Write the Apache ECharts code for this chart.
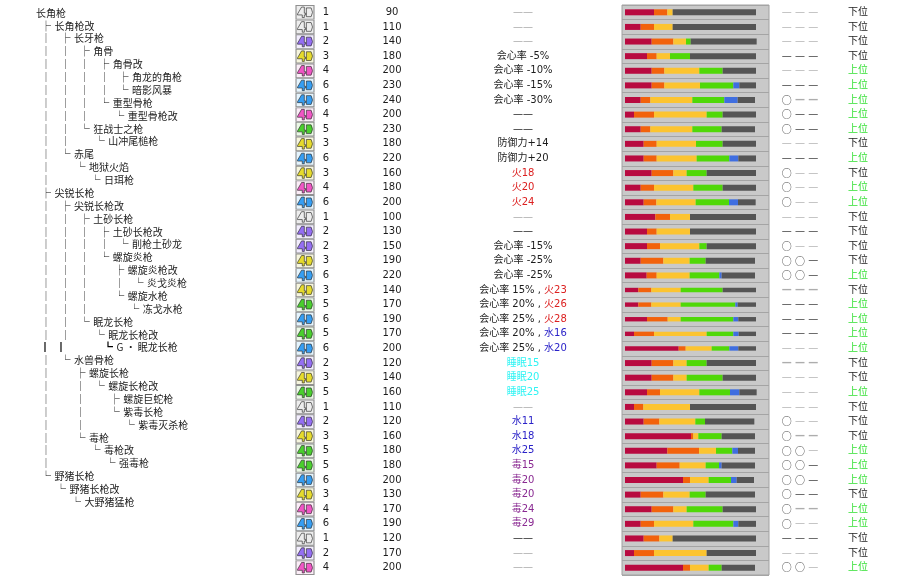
<!DOCTYPE html>
<html>
<head>
<meta charset="utf-8">
<style>
    html, body { margin: 0; padding: 0; background: #fff; }
    #chartArea { width: 922px; height: 588px; }
</style>
<script src="https://cdn.jsdelivr.net/npm/echarts@6/dist/echarts.min.js"></script>
</head>
<body>
<div id="chartArea"></div>
<script>
// upgrade tree: │ bar, 　 blank, ├ └ branch, then the weapon name
var treeRows = [
    "长角枪",
    "├长角枪改",
    "│├长牙枪",
    "││├角骨",
    "│││├角骨改",
    "││││├角龙的角枪",
    "││││└暗影风暴",
    "│││└重型骨枪",
    "│││　└重型骨枪改",
    "││└狂战士之枪",
    "││　└山冲尾槌枪",
    "│└赤尾",
    "│　└地狱火焰",
    "│　　└日珥枪",
    "├尖锐长枪",
    "│├尖锐长枪改",
    "││├土砂长枪",
    "│││├土砂长枪改",
    "││││└削枪土砂龙",
    "│││└螺旋炎枪",
    "│││　├螺旋炎枪改",
    "│││　│└炎戈炎枪",
    "│││　└螺旋水枪",
    "│││　　└冻戈水枪",
    "││└眠龙长枪",
    "││　└眠龙长枪改",
    "┃┃　　┗G · 眠龙长枪",
    "│└水兽骨枪",
    "│　├螺旋长枪",
    "│　│└螺旋长枪改",
    "│　│　├螺旋巨蛇枪",
    "│　│　└紫毒长枪",
    "│　│　　└紫毒灭杀枪",
    "│　└毒枪",
    "│　　└毒枪改",
    "│　　　└强毒枪",
    "└野猪长枪",
    "　└野猪长枪改",
    "　　└大野猪猛枪"
];
var levels = [1, 1, 2, 3, 4, 6, 6, 4, 5, 3, 6, 3, 4, 6, 1, 2, 2, 3, 6, 3, 5, 6, 5, 6, 2, 3, 5, 1, 2, 3, 5, 5, 6, 3, 4, 6, 1, 2, 4];
var attacks = [90, 110, 140, 180, 200, 230, 240, 200, 230, 180, 220, 160, 180, 200, 100, 130, 150, 190, 220, 140, 170, 190, 170, 200, 120, 140, 160, 110, 120, 160, 180, 180, 200, 130, 170, 190, 120, 170, 200];
var effects = [
    "——", "——", "——", "会心率 -5%", "会心率 -10%", "会心率 -15%", "会心率 -30%", "——", "——",
    "防御力+14", "防御力+20", "火18", "火20", "火24", "——", "——", "会心率 -15%", "会心率 -25%", "会心率 -25%",
    "会心率 15% , 火23", "会心率 20% , 火26", "会心率 25% , 火28", "会心率 20% , 水16", "会心率 25% , 水20",
    "睡眠15", "睡眠20", "睡眠25", "——", "水11", "水18", "水25", "毒15", "毒20", "毒20", "毒24", "毒29", "——", "——", "——"
];
var faintEffects = [0, 1, 2, 14, 27, 37, 38];

// sharpness gauge, one array per colour
var sharpRed = [87, 47, 80, 66, 80, 80, 47, 27, 47, 56, 56, 80, 47, 56, 91, 66, 66, 47, 65, 40, 40, 66, 27, 161, 80, 80, 66, 27, 56, 198, 127, 95, 174, 47, 80, 47, 56, 27, 174];
var sharpOrange = [40, 40, 65, 29, 38, 38, 29, 60, 29, 39, 39, 65, 40, 38, 44, 29, 39, 68, 30, 39, 39, 62, 60, 21, 65, 65, 39, 28, 47, 7, 95, 69, 21, 68, 65, 40, 47, 60, 21];
var sharpYellow = [16, 56, 38, 40, 105, 107, 126, 158, 126, 118, 120, 40, 118, 118, 60, 100, 118, 79, 99, 88, 88, 39, 158, 78, 40, 40, 118, 140, 108, 15, 51, 78, 56, 79, 40, 118, 40, 158, 56];
var sharpGreen = [0, 0, 14, 60, 70, 100, 96, 48, 88, 80, 98, 60, 88, 100, 0, 0, 22, 48, 89, 126, 164, 158, 80, 53, 60, 108, 92, 0, 29, 70, 49, 40, 67, 48, 108, 120, 0, 0, 39];
var sharpBlue = [0, 0, 0, 0, 0, 18, 40, 0, 0, 0, 27, 0, 0, 27, 0, 0, 0, 0, 7, 0, 7, 15, 16, 27, 0, 0, 28, 0, 0, 0, 17, 8, 17, 0, 0, 15, 0, 0, 0];
var sharpRest = [250, 250, 198, 198, 100, 50, 52, 100, 100, 100, 53, 148, 100, 53, 198, 198, 148, 148, 100, 100, 55, 53, 52, 53, 148, 100, 52, 198, 148, 100, 51, 100, 52, 148, 100, 53, 250, 148, 100];
var thinGaugeRows = [19, 20, 21, 22, 23];

// decoration slots
var slots = [
    "———", "———", "———", "———", "———", "———", "○——", "○——", "○——", "———", "———", "○——", "○——",
    "○——", "———", "———", "○——", "○○—", "○○—", "———", "———", "———", "———", "———", "———", "———",
    "———", "———", "○——", "○——", "○○—", "○○—", "○○—", "○——", "○——", "○——", "———", "———", "○○—"
];
var faintSlots = [0, 1, 2, 4, 9, 11, 12, 13, 14, 16, 23, 25, 26, 27, 28, 30, 35, 37, 38];
var heavySlots = [6, 19, 24, 29, 34];
var ranks = [
    "下位", "下位", "下位", "下位", "上位", "上位", "上位", "上位", "上位", "下位", "上位", "下位", "上位",
    "上位", "下位", "下位", "下位", "下位", "上位", "下位", "上位", "上位", "上位", "上位", "下位", "下位",
    "上位", "下位", "下位", "下位", "上位", "上位", "上位", "下位", "上位", "上位", "下位", "下位", "上位"
];

var TEXT_FONT = '"DejaVu Sans", "Noto Sans CJK SC", sans-serif';
var TREE_FONT = '"Noto Sans CJK SC", sans-serif';
var rarityFill = { 1: "#ececec", 2: "#7d4ff0", 3: "#e2d400", 4: "#ee2fb8", 5: "#22c400", 6: "#0a88f0" };
var rarityBack = { 1: "#e8e8e8", 2: "#efe9fc", 3: "#f4f2d6", 4: "#fae8f5", 5: "#e6f5e0", 6: "#def1fc" };
var weaponIcon = "path://M0 9 L6 1 L10 1 L10 8 L12 8 L12 10 L10 10 L10 13 L7 13 L7 10 L0 10 Z " +
    "M13 2 L20 2 Q24 7 20 12 L13 12 Z";

var rowIds = treeRows.map(function (name, i) { return i; });

// column axes: the labels are the column text
function columnAxis(data, centerX, label) {
    var axisLabel = {
        show: true, interval: 0, margin: 0, align: "center", inside: false,
        fontSize: 10, fontFamily: TEXT_FONT, color: "#1c1c1c"
    };
    for (var k in label) axisLabel[k] = label[k];
    return {
        type: "category", gridIndex: 1, inverse: true, position: "left", offset: -centerX, data: data,
        axisLine: { show: false }, axisTick: { show: false }, splitLine: { show: false }, axisLabel: axisLabel
    };
}

function hiddenAxis(gridIndex, showSplit) {
    return {
        type: "category", gridIndex: gridIndex, inverse: true, data: rowIds,
        axisLine: { show: false }, axisTick: { show: false }, axisLabel: { show: false },
        splitLine: { show: !!showSplit, interval: 0, lineStyle: { color: "#a4a4a4", width: 1 } }
    };
}

function hiddenValue(gridIndex, min, max) {
    return { type: "value", gridIndex: gridIndex, min: min, max: max, show: false, splitLine: { show: false } };
}

var effectFormatter = function (value, index) {
    if (value === "——" && faintEffects.indexOf(index) > -1) return "{faint|——}";
    return value.replace(/火\d+/, "{fire|$&}")
        .replace(/水\d+/, "{water|$&}")
        .replace(/睡眠\d+/, "{sleep|$&}")
        .replace(/毒\d+/, "{poison|$&}");
};

var slotFormatter = function (value, index) {
    var dash = faintSlots.indexOf(index) > -1 ? "f" : heavySlots.indexOf(index) > -1 ? "h" : "d";
    return value.split("").map(function (c) {
        return c === "○" ? "{o|○}" : "{" + dash + "|—}";
    }).join("");
};

function slotStyle(color, font, weight) {
    return {
        width: 13.3, align: "center", verticalAlign: "middle", lineHeight: 14, fontSize: 10,
        fontFamily: font, fontWeight: weight || "normal", color: color
    };
}

// tree rows are laid out glyph by glyph
var renderTree = function (params, api) {
    var row = api.value(1);
    var text = treeRows[row];
    var x = 46;
    var y = api.coord([0, row])[1];
    var children = [];
    var start = api.coord([0, row])[0];
    function add(str, px, align, fill) {
        children.push({
            type: "text",
            style: {
                x: start + px, y: y, text: str, align: align, verticalAlign: "middle",
                font: "10px " + TREE_FONT, fill: fill
            }
        });
    }
    if (text.search(/[│├└┃┗　]/) !== 0) {
        add(text, 36, "left", "#1c1c1c");
        return { type: "group", children: children };
    }
    for (var i = 0; i < text.length; i++) {
        var c = text.charAt(i);
        if (c === "│") { add(c, x, "center", "#000"); x += 19.4; }
        else if (c === "┃") { add(c, x - 1, "center", "#000"); x += 16; }
        else if (c === "　") { x += 15; }
        else {
            add(c, x, "center", "#000");
            add(text.slice(i + 1), x + 8.5, "left", "#1c1c1c");
            break;
        }
    }
    return { type: "group", children: children };
};

var gaugeColors = ["#b80a40", "#f2620c", "#fcc430", "#50d808", "#3f6ee0", "#555555"];
var gaugeArrays = [sharpRed, sharpOrange, sharpYellow, sharpGreen, sharpBlue, sharpRest];
var gaugeSeries = [];
gaugeArrays.forEach(function (values, c) {
    gaugeSeries.push({
        type: "bar", xAxisIndex: 2, yAxisIndex: 7, stack: "thick", barWidth: 6, silent: true,
        itemStyle: { color: gaugeColors[c] },
        data: values.map(function (v, i) { return thinGaugeRows.indexOf(i) > -1 ? "-" : v; })
    });
    gaugeSeries.push({
        type: "bar", xAxisIndex: 2, yAxisIndex: 8, stack: "thin", barWidth: 4.4, silent: true,
        itemStyle: { color: gaugeColors[c] },
        data: values.map(function (v, i) { return thinGaugeRows.indexOf(i) > -1 ? v : "-"; })
    });
});

var option = {
    animation: false,
    backgroundColor: "#fff",
    grid: [
        { left: 0, width: 290, top: 6.5, height: 502 },
        { left: 0, width: 922, top: 5, height: 570 },
        { left: 622, width: 147, top: 5, height: 570, show: true, backgroundColor: "#c9c9c9", borderColor: "#a0a0a0", borderWidth: 1 }
    ],
    xAxis: [hiddenValue(0, 0, 290), hiddenValue(1, 0, 922), hiddenValue(2, -9, 432)],
    yAxis: [
        hiddenAxis(0),
        hiddenAxis(1),
        columnAxis(levels, 326, {}),
        columnAxis(attacks, 392, {}),
        columnAxis(effects, 523, {
            formatter: effectFormatter,
            rich: {
                faint: { color: "#aaaaaa", fontSize: 10, fontFamily: TEXT_FONT },
                fire: { color: "#dc2020", fontSize: 10, fontFamily: TEXT_FONT },
                water: { color: "#2a22c8", fontSize: 10, fontFamily: TEXT_FONT },
                sleep: { color: "#30f4f4", fontSize: 10, fontFamily: TEXT_FONT },
                poison: { color: "#8a2a92", fontSize: 10, fontFamily: TEXT_FONT }
            }
        }),
        columnAxis(slots, 800, {
            formatter: slotFormatter,
            rich: {
                o: slotStyle("#555", TREE_FONT),
                d: slotStyle("#3c3c3c", TEXT_FONT),
                f: slotStyle("#b4b4b4", TEXT_FONT),
                h: slotStyle("#adadad", TEXT_FONT, "bold")
            }
        }),
        columnAxis(ranks, 858, {
            color: function (value) { return value === "上位" ? "#36e036" : "#1c1c1c"; }
        }),
        hiddenAxis(2, true),
        hiddenAxis(2)
    ],
    series: [
        {
            type: "custom", xAxisIndex: 0, yAxisIndex: 0, renderItem: renderTree, silent: true, clip: false,
            data: rowIds.map(function (i) { return [0, i]; })
        },
        {
            type: "scatter", xAxisIndex: 1, yAxisIndex: 1, symbol: "rect", symbolSize: [18, 13.6], silent: true,
            itemStyle: {
                color: function (p) { return rarityBack[levels[p.dataIndex]]; },
                borderColor: "#777", borderWidth: 1
            },
            data: rowIds.map(function (i) { return [305, i]; })
        },
        {
            type: "scatter", xAxisIndex: 1, yAxisIndex: 1, symbol: weaponIcon, symbolSize: [15, 10.5], silent: true, z: 3,
            itemStyle: {
                color: function (p) { return rarityFill[levels[p.dataIndex]]; },
                borderColor: "#2a2a2a", borderWidth: 0.8
            },
            data: rowIds.map(function (i) { return [305, i]; })
        }
    ].concat(gaugeSeries)
};

var myChart = echarts.init(document.getElementById("chartArea"));
myChart.setOption(option);
</script>
</body>
</html>
